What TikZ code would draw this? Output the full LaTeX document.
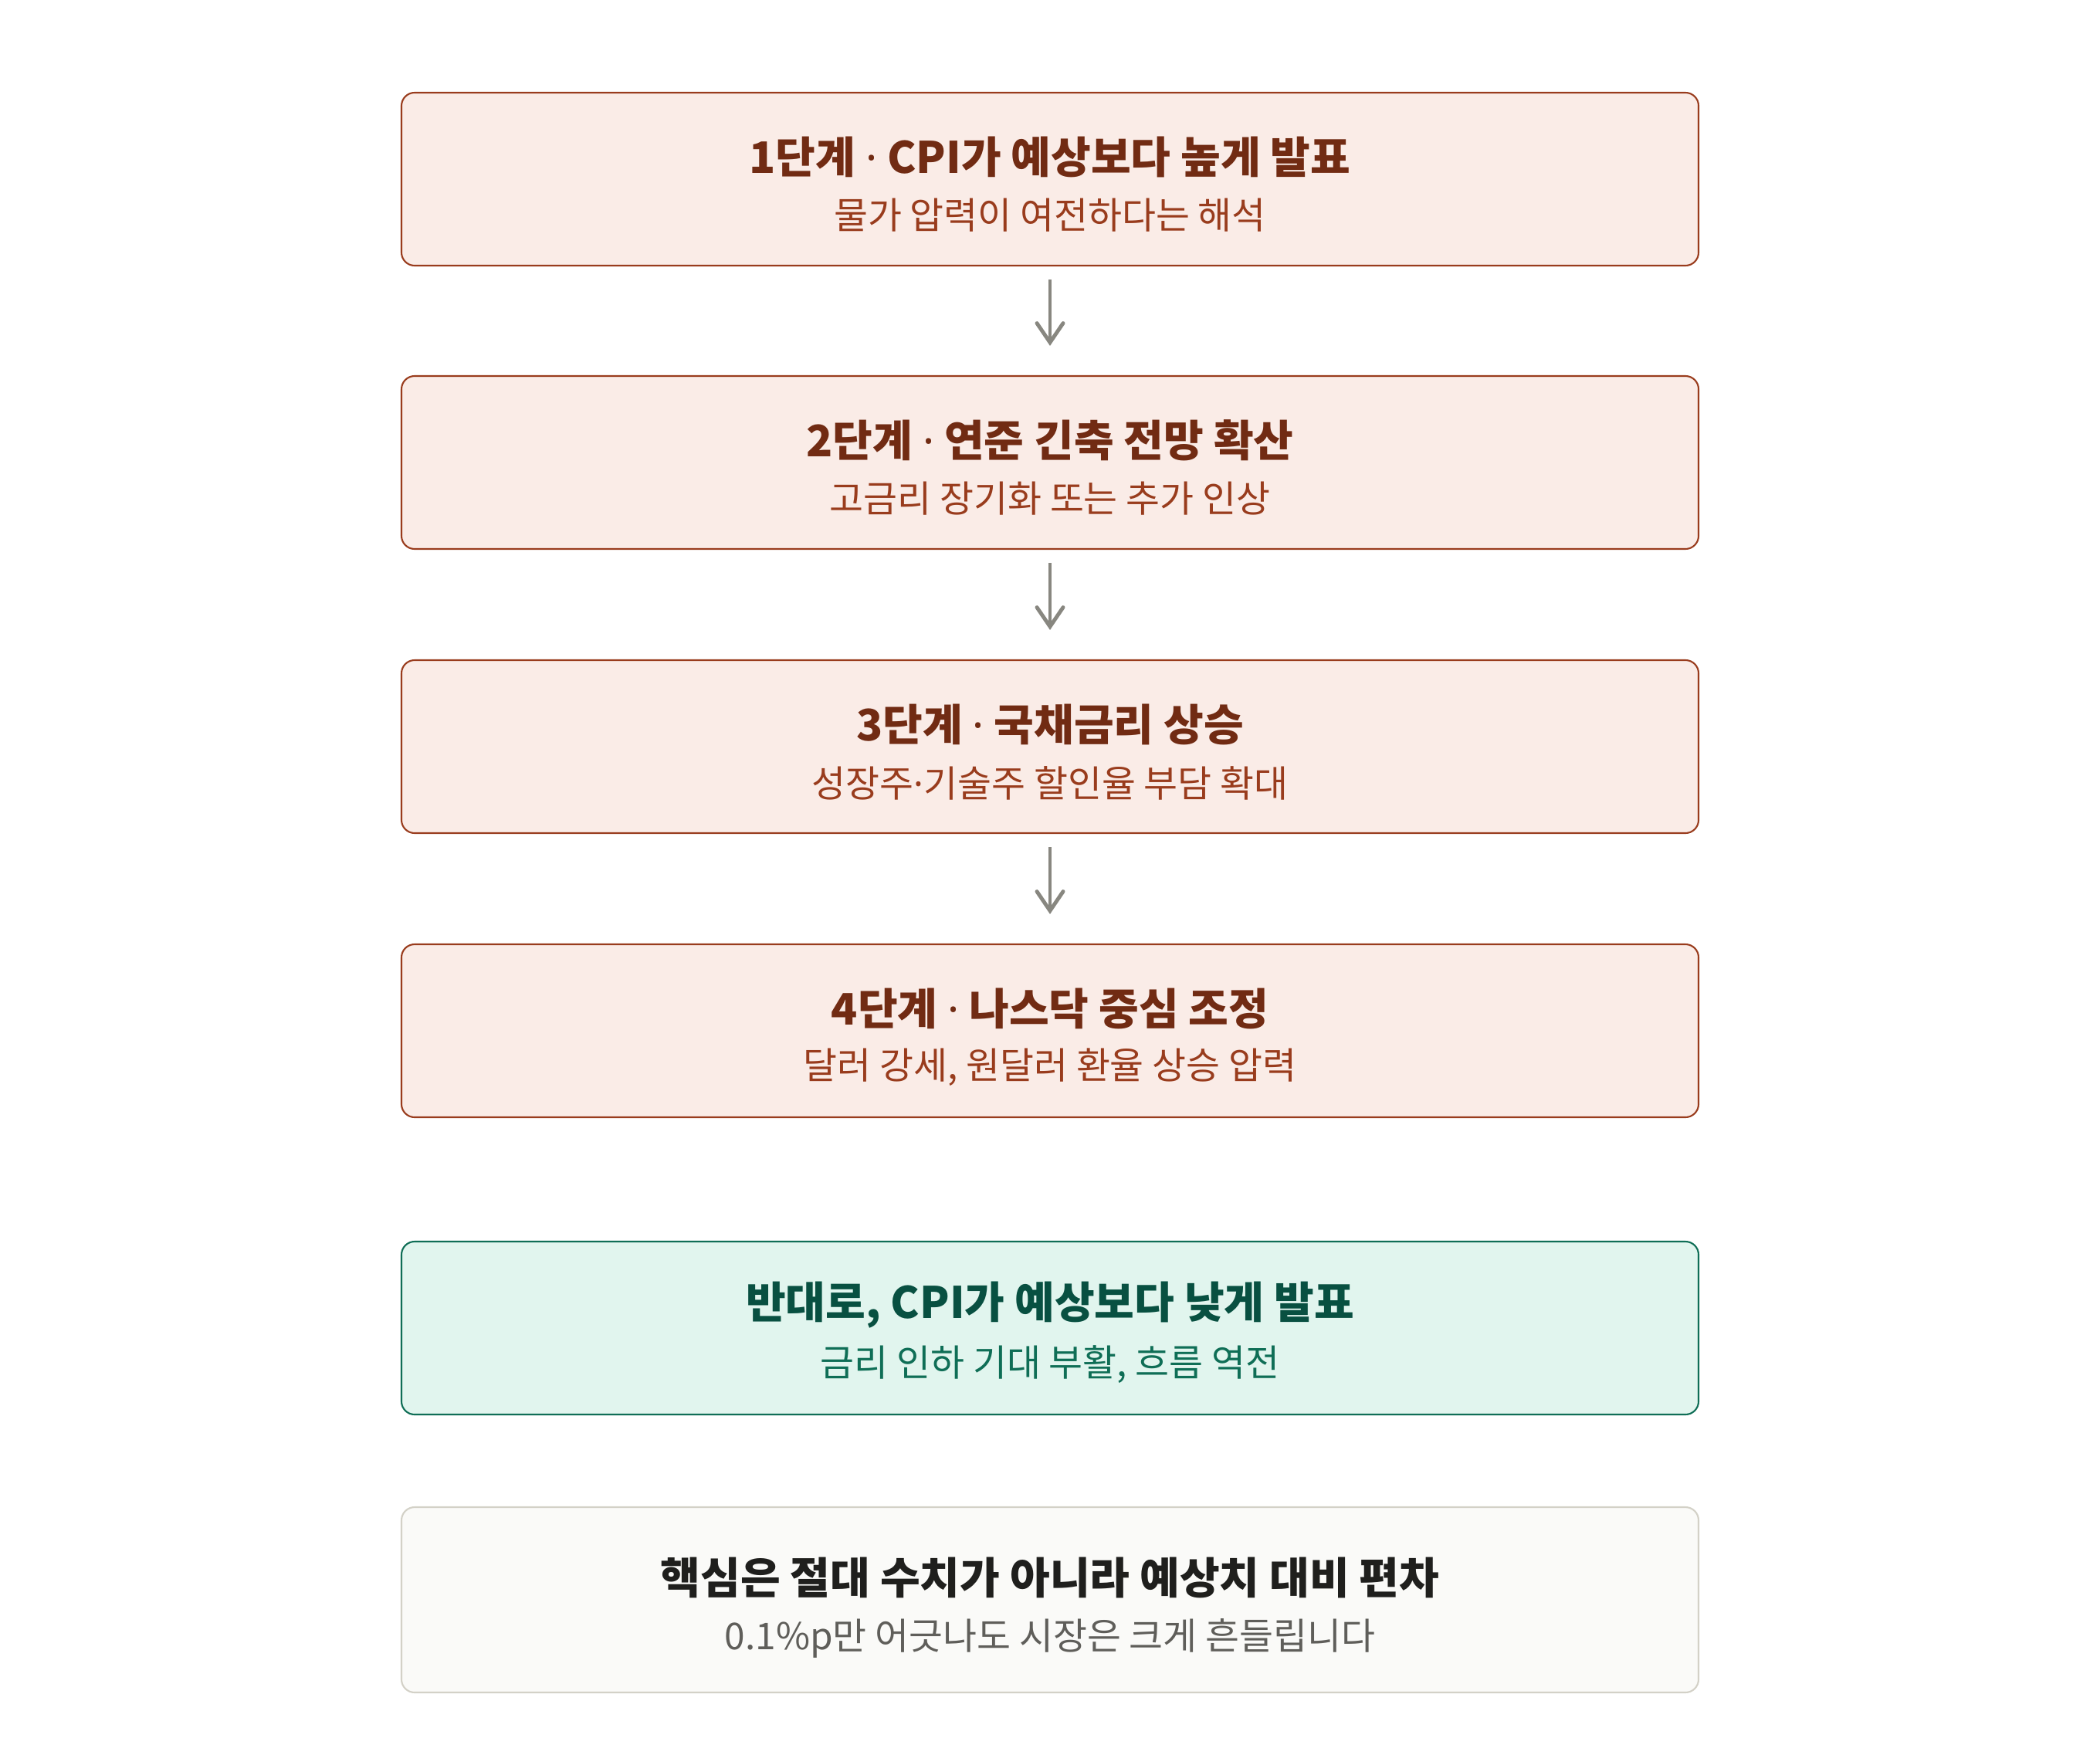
\documentclass[tikz,border=0pt]{standalone}
\usepackage{fontspec}
\setmainfont{Noto Sans CJK KR}
\newfontfamily\dotfont{Noto Sans}
\newcommand{\middot}{{\dotfont ·}}
\usepackage{tikz}
\usetikzlibrary{arrows.meta}

\definecolor{coralfill}{HTML}{FAECE7}
\definecolor{coralline}{HTML}{993C1D}
\definecolor{coraldark}{HTML}{712B13}
\definecolor{tealfill}{HTML}{E1F5EE}
\definecolor{tealline}{HTML}{0F6E56}
\definecolor{tealdark}{HTML}{085041}
\definecolor{grayfill}{HTML}{FAFAF8}
\definecolor{grayline}{HTML}{D3D1C7}
\definecolor{graydark}{HTML}{1F1F1D}
\definecolor{graytext}{HTML}{5F5E5A}
\definecolor{arrowgray}{HTML}{888780}

\begin{document}
\begin{tikzpicture}[
        stagebox/.style={draw=coralline, fill=coralfill, line width=0.6pt, rounded corners=0.17cm,
            minimum width=16.8cm, minimum height=2.24cm, inner sep=0},
        altbox/.style={stagebox, draw=tealline, fill=tealfill},
        notebox/.style={stagebox, draw=grayline, fill=grayfill, minimum height=2.4cm},
        headline/.style={inner sep=0, font=\fontsize{16}{19}\selectfont\bfseries},
        subline/.style={inner sep=0, font=\fontsize{13.6}{16}\selectfont},
        flow/.style={arrowgray, line width=1.4pt, -{Straight Barb[length=0.25cm, width=0.34cm, line cap=round]}}
    ]
        \useasboundingbox (0,0) rectangle (27.2,-22.72);

        % stages
        \node[stagebox] (s1) at (13.6,-2.32) {};
        \node[stagebox] (s2) at (13.6,-5.99) {};
        \node[stagebox] (s3) at (13.6,-9.67) {};
        \node[stagebox] (s4) at (13.6,-13.35) {};
        \node[altbox] (alt) at (13.6,-17.20) {};
        \node[notebox] (note) at (13.6,-20.72) {};

        \node[headline, coraldark] (s1t) at ([yshift=0.29cm]s1.center) {1단계 \middot{} CPI가 예상보다 높게 발표};
        \node[subline, coralline] (s1s) at ([yshift=-0.47cm]s1.center) {물가 압력이 여전하다는 해석};
        \node[headline, coraldark] (s2t) at ([yshift=0.29cm]s2.center) {2단계 \middot{} 연준 긴축 전망 확산};
        \node[subline, coralline] (s2s) at ([yshift=-0.47cm]s2.center) {고금리 장기화 또는 추가 인상};
        \node[headline, coraldark] (s3t) at ([yshift=0.29cm]s3.center) {3단계 \middot{} 국채금리 상승};
        \node[subline, coralline] (s3s) at ([yshift=-0.47cm]s3.center) {성장주\middot{}기술주 할인율 부담 확대};
        \node[headline, coraldark] (s4t) at ([yshift=0.29cm]s4.center) {4단계 \middot{} 나스닥 중심 조정};
        \node[subline, coralline] (s4s) at ([yshift=-0.47cm]s4.center) {달러 강세, 원달러 환율 상승 압력};

        \node[headline, tealdark] (altt) at ([yshift=0.30cm]alt.center) {반대로, CPI가 예상보다 낮게 발표};
        \node[subline, tealline] (alts) at ([yshift=-0.47cm]alt.center) {금리 인하 기대 부활, 흐름 역전};

        \node[headline, graydark] (notet) at ([yshift=0.29cm]note.center) {핵심은 절대 수치가 아니라 예상치 대비 편차};
        \node[subline, graytext] (notes) at ([yshift=-0.50cm]note.center) {0.1\%p만 어긋나도 시장은 크게 흔들립니다};

        % arrows
        \draw[flow] ([yshift=-0.17cm]s1.south) -- ([yshift=0.38cm]s2.north);
        \draw[flow] ([yshift=-0.17cm]s2.south) -- ([yshift=0.38cm]s3.north);
        \draw[flow] ([yshift=-0.17cm]s3.south) -- ([yshift=0.38cm]s4.north);
\end{tikzpicture}
\end{document}
